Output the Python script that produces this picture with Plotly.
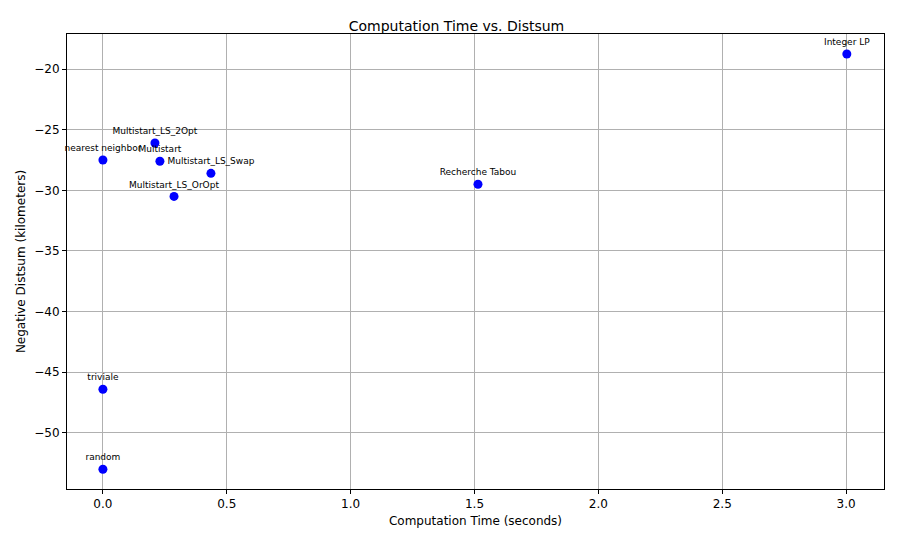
import plotly.graph_objects as go

names = ["Integer LP", "Multistart_LS_2Opt", "nearest neighbor", "Multistart", "Multistart_LS_Swap",
         "Multistart_LS_OrOpt", "Recherche Tabou", "triviale", "random"]
times = [3.003, 0.21, 0.0, 0.23, 0.436, 0.287, 1.514, 0.0, 0.0]
neg_distsum = [-18.76, -26.1, -27.5, -27.6, -28.6, -30.5, -29.5, -46.4, -53.0]

fig = go.Figure(go.Scatter(
    x=times, y=neg_distsum, mode="markers+text", text=names,
    textposition="top center", textfont=dict(size=9, color="black"),
    marker=dict(color="blue", size=9), cliponaxis=False))

ax = dict(showline=True, mirror=True, linecolor="black", gridcolor="#b0b0b0",
          ticks="outside", ticklen=4, tickcolor="black", zeroline=False, automargin=False,
          tickfont=dict(size=12, color="black"))
fig.update_layout(
    width=897, height=542, plot_bgcolor="white", paper_bgcolor="white",
    font=dict(family="DejaVu Sans", color="black"),
    margin=dict(l=59, r=21, t=26, b=61), showlegend=False,
    title=dict(text="Computation Time vs. Distsum", x=0.5, xanchor="center", y=0.975, font=dict(size=14)),
    xaxis=dict(ax, range=[-0.145, 3.153], tickvals=[0, 0.5, 1, 1.5, 2, 2.5, 3],
               ticktext=["0.0", "0.5", "1.0", "1.5", "2.0", "2.5", "3.0"],
               title=dict(text="Computation Time (seconds)", font=dict(size=12), standoff=6)),
    yaxis=dict(ax, range=[-54.63, -17.11], tickvals=[-50, -45, -40, -35, -30, -25, -20],
               title=dict(text="Negative Distsum (kilometers)", font=dict(size=12), standoff=6)),
)
fig.write_html("out.html")
